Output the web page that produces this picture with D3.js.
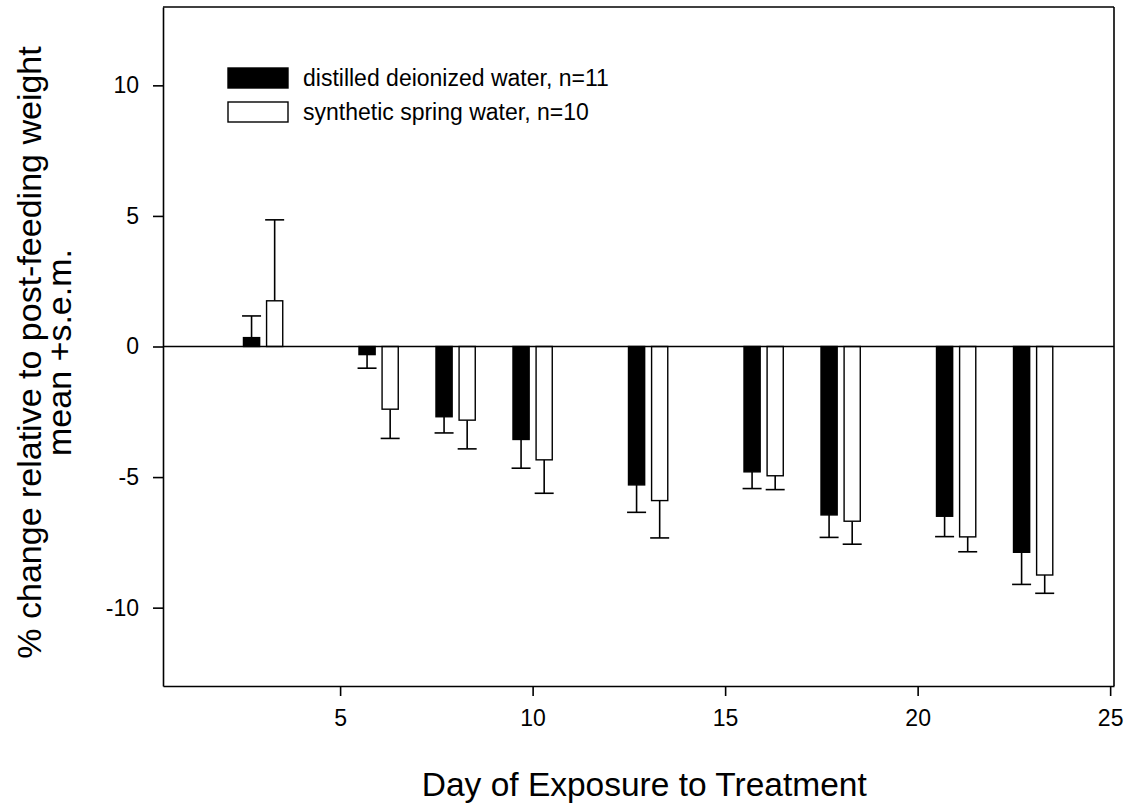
<!DOCTYPE html>
<html>
<head>
<meta charset="utf-8">
<title>Weight change</title>
<style>
  body { margin: 0; background: #fff; }
  svg text { font-family: "Liberation Sans", Arial, sans-serif; fill: #000; }
  .axis path, .axis line { stroke: #000; stroke-width: 1.6; }
  .axis text { font-size: 23px; }
</style>
</head>
<body>
<svg id="chart" width="1130" height="803"></svg>
<script src="https://d3js.org/d3.v7.min.js"></script>
<script>
// day of exposure
var days = [3, 6, 8, 10, 13, 16, 18, 21, 23];
// distilled deionized water, mean and s.e.m.
var ddwMean = [0.34, -0.31, -2.69, -3.56, -5.30, -4.80, -6.45, -6.50, -7.88];
var ddwSem  = [0.83, 0.52, 0.62, 1.10, 1.05, 0.64, 0.86, 0.78, 1.23];
// synthetic spring water, mean and s.e.m.
var sswMean = [1.75, -2.40, -2.82, -4.34, -5.90, -4.95, -6.69, -7.29, -8.75];
var sswSem  = [3.10, 1.12, 1.10, 1.28, 1.43, 0.53, 0.88, 0.57, 0.70];

var xTicks = [5, 10, 15, 20, 25];
var yTicks = [-10, -5, 0, 5, 10];
var seriesNames = ["distilled deionized water, n=11", "synthetic spring water, n=10"];

var svg = d3.select("#chart"),
    margin = {top: 7, right: 16, bottom: 117, left: 163},
    width = 1130 - margin.left - margin.right,
    height = 803 - margin.top - margin.bottom;

var g = svg.append("g")
    .attr("transform", "translate(" + margin.left + "," + margin.top + ")");

var x = d3.scaleLinear().domain([0.4, 25.1]).range([0, width]),
    y = d3.scaleLinear().domain([-13, 13]).range([height, 0]);

var offset = 0.3, barW = x(0.82) - x(0.4), capW = 19;

var series = [
  {name: seriesNames[0], fill: "#000", shift: -offset, rows: days.map(function(d, i) { return {day: d, mean: ddwMean[i], sem: ddwSem[i]}; })},
  {name: seriesNames[1], fill: "#fff", shift: offset, rows: days.map(function(d, i) { return {day: d, mean: sswMean[i], sem: sswSem[i]}; })}
];

// frame (top + right)
g.append("line").attr("x1", 0).attr("x2", width).attr("y1", 0).attr("y2", 0)
    .attr("stroke", "#000").attr("stroke-width", 1.6);
g.append("line").attr("x1", width).attr("x2", width).attr("y1", 0).attr("y2", height)
    .attr("stroke", "#000").attr("stroke-width", 1.6);

// error bars first, bars drawn over them
series.forEach(function(s) {
  var eb = g.selectAll(null).data(s.rows).enter().append("g")
      .attr("stroke", "#000").attr("stroke-width", 1.6);
  eb.append("line")
      .attr("x1", function(d) { return x(d.day + s.shift); })
      .attr("x2", function(d) { return x(d.day + s.shift); })
      .attr("y1", function(d) { return y(d.mean); })
      .attr("y2", function(d) { return y(d.mean >= 0 ? d.mean + d.sem : d.mean - d.sem); });
  eb.append("line")
      .attr("x1", function(d) { return x(d.day + s.shift) - capW / 2; })
      .attr("x2", function(d) { return x(d.day + s.shift) + capW / 2; })
      .attr("y1", function(d) { return y(d.mean >= 0 ? d.mean + d.sem : d.mean - d.sem); })
      .attr("y2", function(d) { return y(d.mean >= 0 ? d.mean + d.sem : d.mean - d.sem); });

  g.selectAll(null).data(s.rows).enter().append("rect")
      .attr("x", function(d) { return x(d.day + s.shift) - barW / 2; })
      .attr("y", function(d) { return y(Math.max(0, d.mean)); })
      .attr("width", barW)
      .attr("height", function(d) { return Math.abs(y(d.mean) - y(0)); })
      .attr("fill", s.fill)
      .attr("stroke", "#000")
      .attr("stroke-width", 1.4);
});

// zero line
g.append("line").attr("x1", 0).attr("x2", width).attr("y1", y(0)).attr("y2", y(0))
    .attr("stroke", "#000").attr("stroke-width", 1.6);

// axes
g.append("g")
    .attr("class", "axis")
    .attr("transform", "translate(0," + height + ")")
    .call(d3.axisBottom(x).tickValues(xTicks).tickSize(10).tickSizeOuter(0).tickPadding(14));

g.append("g")
    .attr("class", "axis")
    .call(d3.axisLeft(y).tickValues(yTicks).tickSize(10).tickSizeOuter(0).tickPadding(14)
      .tickFormat(function(d) { return String(d); }));

// axis titles
svg.append("text")
    .attr("x", margin.left + x(12.9))
    .attr("y", 796)
    .attr("text-anchor", "middle")
    .style("font-size", "33.5px")
    .text("Day of Exposure to Treatment");

var yt = svg.append("text")
    .attr("transform", "translate(0," + (margin.top + y(0) + 6) + ") rotate(-90)")
    .attr("text-anchor", "middle")
    .style("font-size", "34px");
yt.append("tspan").attr("x", 0).attr("y", 41).text("% change relative to post-feeding weight");
yt.append("tspan").attr("x", 0).attr("y", 71).text("mean +s.e.m.");

// legend
var legend = svg.append("g").attr("transform", "translate(228,68)");
series.forEach(function(s, i) {
  legend.append("rect")
      .attr("x", 0).attr("y", i * 34)
      .attr("width", 60).attr("height", 20)
      .attr("fill", s.fill).attr("stroke", "#000").attr("stroke-width", 1.4);
  legend.append("text")
      .attr("x", 75).attr("y", i * 34 + 18)
      .style("font-size", "23px")
      .text(s.name);
});
</script>
</body>
</html>
